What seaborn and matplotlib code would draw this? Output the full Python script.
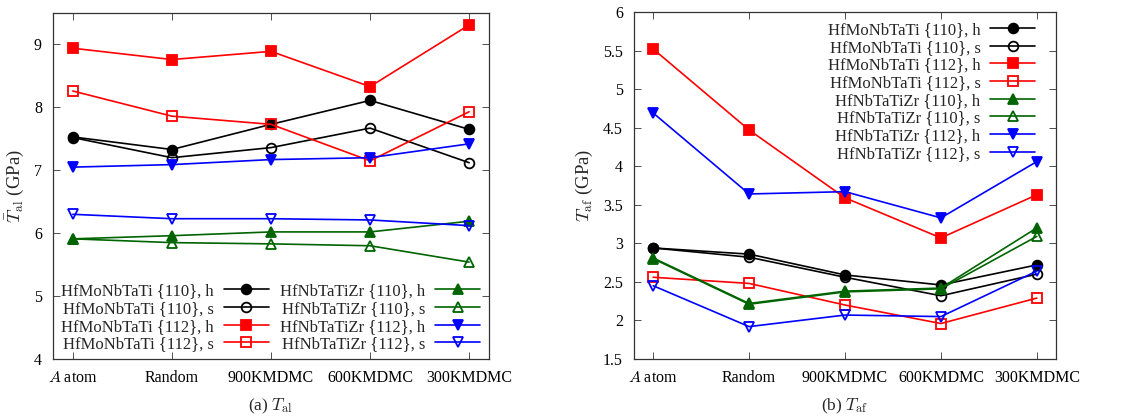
import matplotlib
matplotlib.use("Agg")
import matplotlib.pyplot as plt
import seaborn as sns
import numpy as np
import pandas as pd
from matplotlib.lines import Line2D

# categories
configs = ["$A$ atom", "Random", "900KMDMC", "600KMDMC", "300KMDMC"]

series_names = [
    "HfMoNbTaTi {110}, h", "HfMoNbTaTi {110}, s",
    "HfMoNbTaTi {112}, h", "HfMoNbTaTi {112}, s",
    "HfNbTaTiZr {110}, h", "HfNbTaTiZr {110}, s",
    "HfNbTaTiZr {112}, h", "HfNbTaTiZr {112}, s",
]

# (a) T_al values (GPa)
tal_mo110_h = [7.53, 7.33, 7.73, 8.11, 7.65]
tal_mo110_s = [7.52, 7.20, 7.36, 7.67, 7.12]
tal_mo112_h = [8.94, 8.76, 8.89, 8.33, 9.31]
tal_mo112_s = [8.26, 7.86, 7.73, 7.15, 7.93]
tal_zr110_h = [5.91, 5.96, 6.02, 6.02, 6.19]
tal_zr110_s = [5.91, 5.85, 5.83, 5.80, 5.54]
tal_zr112_h = [7.05, 7.09, 7.17, 7.20, 7.42]
tal_zr112_s = [6.30, 6.23, 6.23, 6.21, 6.12]

# (b) T_af values (GPa)
taf_mo110_h = [2.94, 2.86, 2.59, 2.46, 2.72]
taf_mo110_s = [2.94, 2.82, 2.56, 2.32, 2.60]
taf_mo112_h = [5.52, 4.47, 3.59, 3.07, 3.63]
taf_mo112_s = [2.56, 2.48, 2.20, 1.96, 2.29]
taf_zr110_h = [2.81, 2.22, 2.38, 2.42, 3.20]
taf_zr110_s = [2.80, 2.21, 2.37, 2.41, 3.09]
taf_zr112_h = [4.69, 3.64, 3.67, 3.33, 4.06]
taf_zr112_s = [2.45, 1.92, 2.07, 2.05, 2.64]

tal_data = [tal_mo110_h, tal_mo110_s, tal_mo112_h, tal_mo112_s,
            tal_zr110_h, tal_zr110_s, tal_zr112_h, tal_zr112_s]
taf_data = [taf_mo110_h, taf_mo110_s, taf_mo112_h, taf_mo112_s,
            taf_zr110_h, taf_zr110_s, taf_zr112_h, taf_zr112_s]

colors = ["black", "black", "#ff0000", "#ff0000", "#006400", "#006400", "#0000ff", "#0000ff"]
markers = ["o", "o", "s", "s", "^", "^", "v", "v"]
filled = [True, False, True, False, True, False, True, False]
msizes = [7, 7, 7, 7, 6.5, 7, 6.5, 7]

sns.set_theme(style="ticks")
plt.rcParams['font.family'] = ['Liberation Serif', 'DejaVu Serif']
plt.rcParams['mathtext.fontset'] = 'cm'
plt.rcParams['font.size'] = 11.5

def to_long(data):
    rows = []
    for name, vals in zip(series_names, data):
        for i, v in enumerate(vals):
            rows.append({"series": name, "x": i, "value": v})
    return pd.DataFrame(rows)

def draw_panel(ax, data, ylim, yticks, ylabel):
    df = to_long(data)
    handles = []
    for k, name in enumerate(series_names):
        sub = df[df["series"] == name]
        kw = dict(marker=markers[k], markersize=msizes[k], markeredgewidth=1.3,
                  markeredgecolor=colors[k],
                  markerfacecolor=colors[k] if filled[k] else "none")
        sns.lineplot(x="x", y="value", data=sub, ax=ax, color=colors[k],
                     linewidth=1.2, legend=False, **kw)
        handles.append(Line2D([], [], color=colors[k], linewidth=1.2, **kw))
    ax.set_xlim(-0.2, 4.2)
    ax.set_ylim(*ylim)
    ax.set_yticks(yticks)
    ax.set_yticklabels([f"{t:g}" for t in yticks])
    ax.set_xticks(range(len(configs)))
    ax.set_xticklabels(configs)
    ax.set_xlabel("")
    ax.set_ylabel(ylabel, fontsize=13.5, labelpad=6)
    ax.tick_params(direction="in", top=True, right=True, length=5, width=0.6,
                   labelsize=11.5, pad=8, colors="#333333", labelcolor="black")
    for s in ax.spines.values():
        s.set_color("#333333")
        s.set_linewidth(0.9)
    return handles

fig = plt.figure(figsize=(11.35, 4.19), dpi=100)
ax1 = fig.add_axes([0.0467, 0.1432, 0.3841, 0.8258])
ax2 = fig.add_axes([0.5586, 0.1432, 0.3718, 0.8282])

h1 = draw_panel(ax1, tal_data, (4, 9.5), [4, 5, 6, 7, 8, 9], r"$\bar{T}_{\rm al}$ (GPa)")
h2 = draw_panel(ax2, taf_data, (1.5, 6), [1.5, 2, 2.5, 3, 3.5, 4, 4.5, 5, 5.5, 6],
                r"$T_{\rm af}$ (GPa)")

ax1.legend(h1, series_names, loc="lower left", ncol=2, frameon=False,
           markerfirst=False, handlelength=2.7, handletextpad=0.6,
           columnspacing=0.7, labelspacing=0.1, borderaxespad=0.0,
           bbox_to_anchor=(0.003, 0.0), fontsize=12)
ax2.legend(h2, series_names, loc="upper right", ncol=1, frameon=False,
           markerfirst=False, handlelength=2.7, handletextpad=0.6,
           labelspacing=0.1, borderaxespad=0.2, bbox_to_anchor=(0.975, 1.0),
           fontsize=12)

fig.text(0.2387, 0.03, r"(a) $T_{\rm al}$", ha="center", va="center", fontsize=12.5)
fig.text(0.7445, 0.03, r"(b) $T_{\rm af}$", ha="center", va="center", fontsize=12.5)

fig.savefig("out.png", dpi=100)
